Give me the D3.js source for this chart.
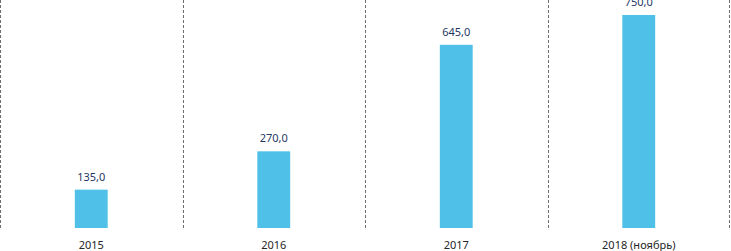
<!DOCTYPE html>
<html>
<head>
<meta charset="utf-8">
<script src="https://cdn.jsdelivr.net/npm/d3@7"></script>
<style>
  body { margin: 0; background: #fff; }
  svg { display: block; font-family: "Noto Sans", "Open Sans", sans-serif; }
</style>
</head>
<body>
<div class="chart"></div>
<script>
// Data
const categories = ["2015", "2016", "2017", "2018 (ноябрь)"];
const values = [135.0, 270.0, 645.0, 750.0];

const width = 731, height = 251;
const baseline = 228;

const svg = d3.select(".chart")
    .append("svg")
    .attr("width", width)
    .attr("height", height);

const xScale = d3.scaleBand()
    .domain(categories)
    .range([0, 730])
    .paddingInner(0.82)
    .paddingOuter(0.41);

// outer band edges for the dotted separators
const band = d3.scaleBand().domain(categories).range([0, 730]);

const yScale = d3.scaleLinear()
    .domain([0, 750])
    .range([baseline, 15]);

// dotted separators
const seps = [0].concat(categories.map(c => band(c) + band.bandwidth()));
svg.selectAll(".sep")
    .data(seps)
    .enter()
    .append("line")
    .attr("class", "sep")
    .attr("x1", d => Math.min(Math.max(Math.round(d) + 0.5, 0.5), 729.5))
    .attr("x2", d => Math.min(Math.max(Math.round(d) + 0.5, 0.5), 729.5))
    .attr("y1", 0)
    .attr("y2", baseline)
    .attr("stroke", "#6e6e6e")
    .attr("stroke-width", 1)
    .attr("stroke-dasharray", "3,2");

// bars
svg.selectAll(".bar")
    .data(values)
    .enter()
    .append("rect")
    .attr("class", "bar")
    .attr("x", (d, i) => xScale(categories[i]))
    .attr("width", xScale.bandwidth())
    .attr("y", d => yScale(d))
    .attr("height", d => baseline - yScale(d))
    .attr("fill", "#4fc0e8");

// value labels
svg.selectAll(".val")
    .data(values)
    .enter()
    .append("text")
    .attr("class", "val")
    .attr("x", (d, i) => xScale(categories[i]) + xScale.bandwidth() / 2)
    .attr("y", d => yScale(d) - 9)
    .attr("text-anchor", "middle")
    .attr("font-size", 11)
    .attr("fill", "#1f3864")
    .text(d => d.toFixed(1).replace(".", ","));

// category labels
svg.selectAll(".cat")
    .data(categories)
    .enter()
    .append("text")
    .attr("class", "cat")
    .attr("x", d => xScale(d) + xScale.bandwidth() / 2)
    .attr("y", 249)
    .attr("text-anchor", "middle")
    .attr("font-size", 11)
    .attr("fill", "#262626")
    .text(d => d);
</script>
</body>
</html>
